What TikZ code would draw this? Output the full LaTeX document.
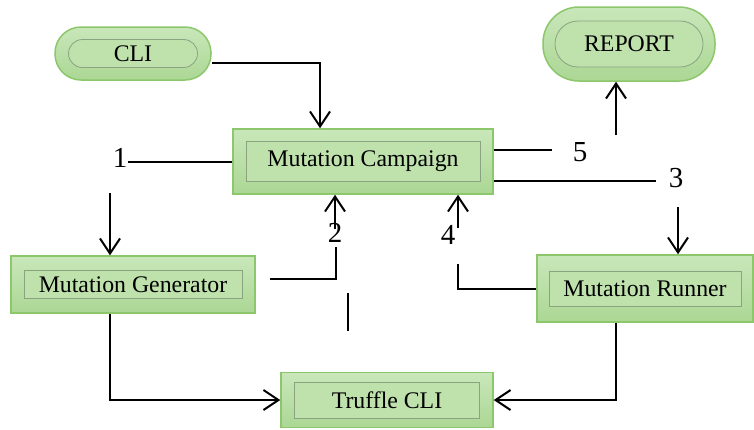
\documentclass[tikz,border=0pt]{standalone}
\usepackage{fontspec}
\setmainfont{Liberation Serif}
\usetikzlibrary{arrows.meta}
\definecolor{boxtop}{HTML}{C9E7BA}
\definecolor{boxfill}{HTML}{ABD794}
\definecolor{boxline}{HTML}{8CC76C}
\definecolor{innerfill}{HTML}{BFE2AD}
\definecolor{innerline}{HTML}{8AA380}
\tikzset{
  outerbox/.style={draw=boxline, line width=1.5pt, top color=boxtop, bottom color=boxfill, inner sep=0pt},
  innerbox/.style={draw=innerline, line width=0.8pt, fill=innerfill, inner sep=0pt, font=\fontsize{23.8}{28}\selectfont},
  pill/.style={outerbox, rounded corners=26pt},
  innerpill/.style={innerbox, rounded corners=14pt},
  arr/.style={-{Straight Barb[length=15pt,width=20pt]}},
}
\begin{document}
\begin{tikzpicture}[x=1pt, y=-1pt, line width=2pt, line join=miter]
				\useasboundingbox (0,0) rectangle (754,429);
				% terminals
				\node[pill, minimum width=156, minimum height=53] (cli) at (133,53.5) {};
				\node[innerpill, minimum width=129, minimum height=28] (clitxt) at (cli) {CLI};
				\node[pill, minimum width=172, minimum height=74, rounded corners=36pt] (report) at (629,44) {};
				\node[innerpill, minimum width=148, minimum height=46, rounded corners=23pt] (reporttxt) at (report) {REPORT};
				% process boxes
				\node[outerbox, minimum width=260, minimum height=65] (campaign) at (363,161.5) {};
				\node[innerbox, minimum width=234, minimum height=40] (campaigntxt) at (campaign) {Mutation Campaign};
				\node[outerbox, minimum width=244, minimum height=57] (generator) at (133,284.5) {};
				\node[innerbox, minimum width=218, minimum height=28] (generatortxt) at (generator) {Mutation Generator};
				\node[outerbox, minimum width=216, minimum height=67] (runner) at (645,288.5) {};
				\node[innerbox, minimum width=192, minimum height=35] (runnertxt) at (runner) {Mutation Runner};
				\node[outerbox, minimum width=212, minimum height=55] (truffle) at (387,400) {};
				\node[innerbox, minimum width=185, minimum height=36] (truffletxt) at (truffle) {Truffle CLI};
				% step numbers
				\foreach \s/\px/\py in {1/120/158, 2/335/233, 3/676/178, 4/448/235, 5/580/152}
					\node[font=\fontsize{29}{32}\selectfont, inner sep=0pt] (n\s) at (\px,\py) {\s};
				% free line ends
				\coordinate (a1) at (128,161.5);
				\coordinate (a2) at (110,193);
				\coordinate (b1) at (270,279);
				\coordinate (b2) at (336,247);
				\coordinate (b3) at (335,229);
				\coordinate (c1) at (348,293);
				\coordinate (c2) at (348,331);
				\coordinate (d1) at (458,264);
				\coordinate (d2) at (458,228);
				\coordinate (e1) at (552,150);
				\coordinate (e2) at (616,135);
				\coordinate (f1) at (656,181);
				\coordinate (f2) at (678,207);
				% connectors
				\draw[arr] ([yshift=-9.5pt]cli.east) -| ([xshift=-43pt]campaign.north);
				\draw (campaign.west) -- (a1);
				\draw[arr] (a2) -- ([xshift=-23pt]generator.north);
				\draw (b1) -| (b2);
				\draw[arr] (b3) -- ([xshift=-28pt]campaign.south);
				\draw (c1) -- (c2);
				\draw (runner.west) -| (d1);
				\draw[arr] (d2) -- ([xshift=95pt]campaign.south);
				\draw ([yshift=11.5pt]campaign.east) -- (e1);
				\draw[arr] (e2) -- ([xshift=-13pt]report.south);
				\draw ([yshift=-19.5pt]campaign.east) -- (f1);
				\draw[arr] (f2) -- ([xshift=33pt]runner.north);
				\draw[arr] ([xshift=-23pt]generator.south) |- (truffle.west);
				\draw[arr] ([xshift=-29pt]runner.south) |- (truffle.east);
			\end{tikzpicture}
\end{document}
